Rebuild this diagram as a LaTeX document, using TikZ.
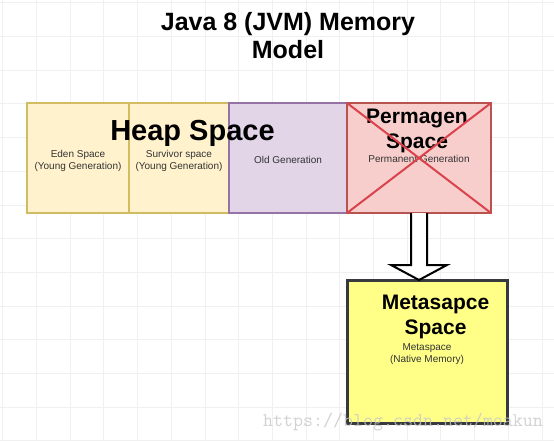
\documentclass[tikz,border=0pt]{standalone}
\usepackage{fontspec}
\setmainfont{Liberation Sans}
\usetikzlibrary{positioning,calc}
\definecolor{youngfill}{HTML}{FFF2CC}
\definecolor{youngline}{HTML}{D2BC62}
\definecolor{oldfill}{HTML}{E1D5E7}
\definecolor{oldline}{HTML}{9673A6}
\definecolor{permfill}{HTML}{F8CECC}
\definecolor{permline}{HTML}{B85450}
\definecolor{crossred}{HTML}{D9434B}
\definecolor{metafill}{HTML}{FFFF88}
\definecolor{metaline}{HTML}{36393D}
\definecolor{gridgray}{HTML}{F0F0F0}

\begin{document}
\begin{tikzpicture}[x=1pt, y=-1pt,
    node distance=0pt,
    region/.style={draw, line width=2pt, minimum height=110pt, inner sep=0pt, outer sep=0pt},
    young/.style={region, fill=youngfill, draw=youngline},
    old/.style={region, fill=oldfill, draw=oldline},
    perm/.style={region, fill=permfill, draw=permline},
    meta/.style={draw=metaline, fill=metafill, line width=3pt, inner sep=0pt, outer sep=0pt,
      minimum width=160pt, minimum height=143pt},
    label/.style={align=center, inner sep=0pt, font=\bfseries\fontsize{21}{25}\selectfont},
    note/.style={align=center, inner sep=0pt, font=\fontsize{10}{12}\selectfont, text=black!80},
    hollow/.style={draw=black, fill=white, line width=2pt, line join=miter},
    cross/.style={draw=crossred, line width=2pt}]
    % page and grid
    \fill[white] (0,0) rectangle (554,441);
    \useasboundingbox (0,0) rectangle (554,441);
    \foreach \k in {0,...,16} \draw[gridgray, line width=0.8pt] ({2.7+33.7*\k},0) -- ({2.7+33.7*\k},441);
    \foreach \k in {0,...,13} \draw[gridgray, line width=0.8pt] (0,{2.7+33.7*\k}) -- (554,{2.7+33.7*\k});
    % title
    \node[label, font=\bfseries\fontsize{25}{28}\selectfont] (title) at (288,36) {Java 8 (JVM) Memory\\Model};
    % heap and permgen
    \node[young, minimum width=102pt, anchor=north west] (eden) at (27,103) {};
    \node[young, minimum width=100pt, right=of eden] (survivor) {};
    \node[old, minimum width=118pt, right=of survivor] (oldgen) {};
    \node[perm, minimum width=144pt, right=of oldgen] (permgen) {};
    \node[note] (edentext) at ([yshift=-3pt]eden.center) {Eden Space\\(Young Generation)};
    \node[note] (survivortext) at ([yshift=-3pt]survivor.center) {Survivor space\\(Young Generation)};
    \node[note] (oldtext) at ([yshift=-1.5pt]oldgen.center) {Old Generation};
    \node[note] (permtext) at ([yshift=-1pt]permgen.center) {Permanent Generation};
    \node[label, font=\bfseries\fontsize{29}{32}\selectfont, anchor=base] (heap) at (192.5,140) {Heap Space};
    \node[label] (permtitle) at (417,131) {Permagen\\Space};
    \draw[cross] (permgen.north west) -- (permgen.south east);
    \draw[cross] (permgen.north east) -- (permgen.south west);
    % metaspace
    \node[meta, anchor=north west] (metaspace) at (347,280) {};
    \node[label] (metatitle) at (435.5,317) {Metasapce\\Space};
    \node[note] (metanote) at (427,354) {Metaspace\\(Native Memory)};
    % hollow arrow
    \coordinate (tip) at (permgen.south |- metaspace.north);
    \draw[hollow] ([xshift=-8pt]permgen.south) -- ([xshift=-8pt, yshift=15pt]tip)
      -- ([xshift=-28pt, yshift=15pt]tip) -- (tip) -- ([xshift=28pt, yshift=15pt]tip)
      -- ([xshift=8pt, yshift=15pt]tip) -- ([xshift=8pt]permgen.south);
    % watermark
    \node[anchor=base west, inner sep=0pt, font=\ttfamily\fontsize{19.4}{19.4}\selectfont, text=black!22, opacity=0.8] (mark) at (263,426) {https://blog.csdn.net/moakun};
\end{tikzpicture}
\end{document}
